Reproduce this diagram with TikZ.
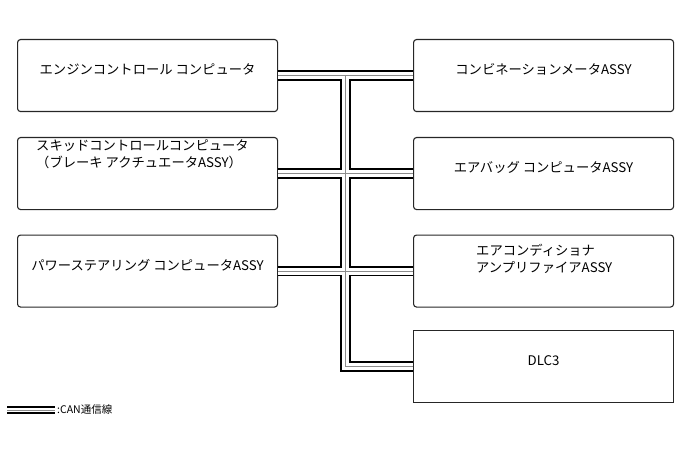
\documentclass[tikz,border=0pt]{standalone}
\usepackage{fontspec}
\setmainfont{Noto Sans CJK JP}
\usetikzlibrary{calc}
\tikzset{
  ecu/.style={draw=black!85,line width=1.1pt,rounded corners=3pt,
    minimum width=260pt,minimum height=72pt,inner sep=0pt},
  ecutext/.style={font=\fontsize{13.3}{17}\selectfont,inner sep=0pt},
  busout/.style={line width=10.5pt,black},
  busgap/.style={line width=7pt,white},
  busmid/.style={line width=1.1pt,black!45},
}
% box with its name centred a little above the middle
\newcommand{\ecubox}[5][]{%
  \node[ecu,anchor=north west,#1] (#2) at (#3,#4) {};
  \node[ecutext] (#2-t) at ([yshift=6pt]#2.center) {#5};}
\newcommand{\canbus}[1]{%
  \draw[#1] (ecu.east) -- (meter.west)
            (skid.east) -- (airbag.west)
            (eps.east) -- (ac.west)
            (bustop) |- (dlc.west);}

\begin{document}
\begin{tikzpicture}[x=1pt,y=-1pt]
  \useasboundingbox (0,0) rectangle (690,465);
  % left column
  \ecubox{ecu}{17}{39}{エンジンコントロール コンピュータ}
  \node[ecu,anchor=north west] (skid) at (17,137) {};
  \node[ecutext,anchor=north west,align=left] (skid-t) at (36,139)
    {スキッドコントロールコンピュータ\\（ブレーキ アクチュエータASSY）};
  \ecubox{eps}{17}{234.5}{パワーステアリング コンピュータASSY}
  % right column
  \ecubox{meter}{413}{39}{コンビネーションメータASSY}
  \ecubox{airbag}{413}{137}{エアバッグ コンピュータASSY}
  \node[ecu,anchor=north west] (ac) at (413,234.5) {};
  \node[ecutext,anchor=north west,align=left] (ac-t) at (476,243.5)
    {エアコンディショナ\\アンプリファイアASSY};
  \ecubox[sharp corners]{dlc}{413}{330}{DLC3}
  % CAN bus
  \coordinate (bustop) at ($(ecu.east)!0.5!(meter.west)$);
  \foreach \s in {busout,busgap,busmid} {\canbus{\s}}
  % legend
  \coordinate (lg-a) at (7,410);
  \coordinate (lg-b) at (55,410);
  \draw[busout,line width=7.5pt] (lg-a) -- (lg-b);
  \draw[busgap,line width=4.5pt] (lg-a) -- (lg-b);
  \draw[busmid,line width=0.9pt] (lg-a) -- (lg-b);
  \node[anchor=west,inner sep=0pt,font=\fontsize{10.5}{12}\selectfont]
    (lg-t) at ([xshift=2pt]lg-b) {:CAN通信線};
\end{tikzpicture}
\end{document}
